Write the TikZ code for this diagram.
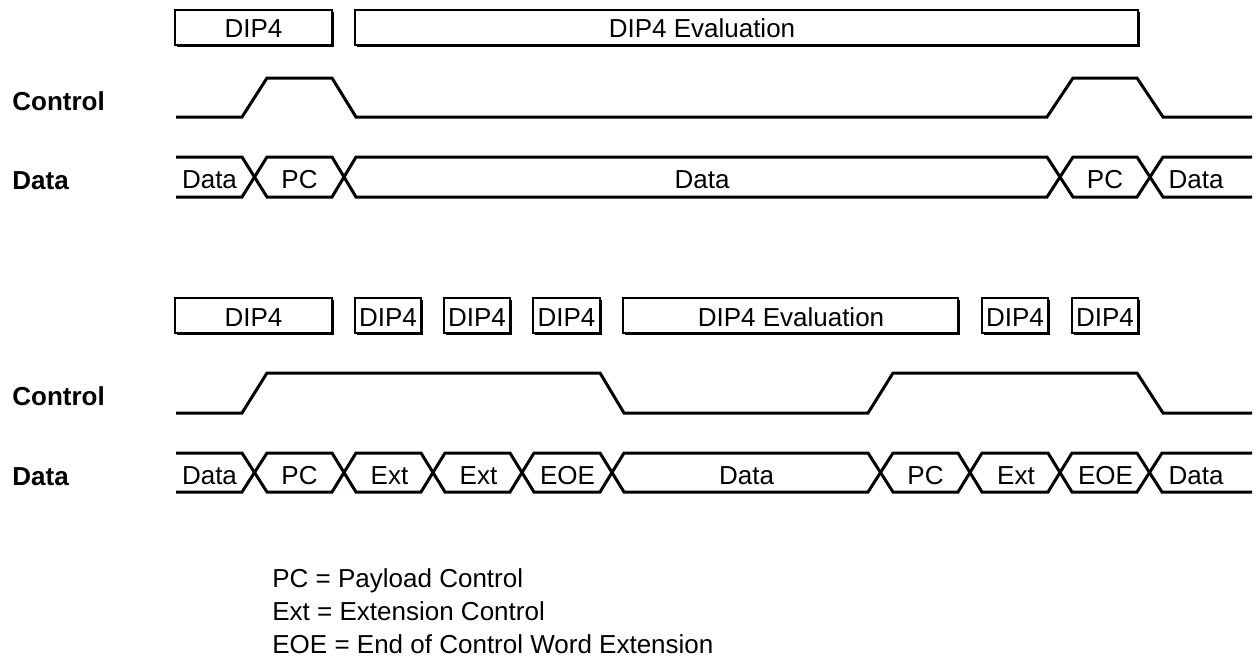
\documentclass[tikz,border=0pt]{standalone}
\usepackage{fontspec}
\setmainfont{Liberation Sans}
\begin{document}
\begin{tikzpicture}[x=0.5pt,y=-0.5pt,
  sig/.style={line width=1.5pt,line join=miter},
  boxframe/.style={line width=1.2pt},
  boxshade/.style={line width=1.2pt},
  txt/.style={anchor=base,inner sep=0pt,font=\fontsize{13pt}{15pt}\selectfont},
  lbl/.style={anchor=base west,inner sep=0pt,font=\fontsize{13pt}{15pt}\selectfont\bfseries},
  leg/.style={anchor=base west,inner sep=0pt,font=\fontsize{13pt}{15pt}\selectfont}]
\useasboundingbox (0,0) rectangle (1257,659);
% boxes
\foreach \a/\b/\t/\u in {175/332/10/45, 355/1138/10/45,
  175/332/298/333, 355/421/298/333, 444/510/298/333, 533/600/298/333,
  623/958/298/333, 982/1048/298/333, 1072/1138/298/333}{
  \draw[boxframe] (\a,\t) rectangle (\b,\u);
  \draw[boxshade] (\b+1,\t+2) -- (\b+1,\u+1) -- (\a+2,\u+1);
}
% top section
\node[txt] (tdip) at (253.5,37) {DIP4};
\node[txt] (teval) at (702,37) {DIP4 Evaluation};
\node[lbl] (tctl) at (12,110) {Control};
\node[lbl] (tdat) at (12,189) {Data};
\draw[sig] (176,117) -- (242,117) -- (267,78) -- (332,78) -- (356,117) -- (1047,117) -- (1073,78) -- (1137,78) -- (1163,117) -- (1252,117);
\draw[sig] (176,157) -- (242,157) -- (267,197) -- (332,197) -- (356,157) -- (1047,157) -- (1073,197) -- (1137,197) -- (1163,157) -- (1252,157);
\draw[sig] (176,197) -- (242,197) -- (267,157) -- (332,157) -- (356,197) -- (1047,197) -- (1073,157) -- (1137,157) -- (1163,197) -- (1252,197);
\node[txt] (td1) at (209.5,188) {Data};
\node[txt] (tp1) at (299.5,188) {PC};
\node[txt] (td2) at (702,188) {Data};
\node[txt] (tp2) at (1105,188) {PC};
\node[txt] (td3) at (1196,188) {Data};
% bottom section
\node[txt] (bdip) at (253.5,326) {DIP4};
\node[txt] (bdip2) at (388,326) {DIP4};
\node[txt] (bdip3) at (477,326) {DIP4};
\node[txt] (bdip4) at (566.5,326) {DIP4};
\node[txt] (beval) at (791,326) {DIP4 Evaluation};
\node[txt] (bdip5) at (1015,326) {DIP4};
\node[txt] (bdip6) at (1105,326) {DIP4};
\node[lbl] (bctl) at (12,405) {Control};
\node[lbl] (bdat) at (12,485) {Data};
\draw[sig] (176,413) -- (242,413) -- (267,373) -- (600,373) -- (624,413) -- (868,413) -- (893,373) -- (1137,373) -- (1163,413) -- (1252,413);
\draw[sig] (176,453) -- (242,453) -- (267,492) -- (332,492) -- (356,453) -- (421,453) -- (445,492) -- (510,492) -- (534,453) -- (600,453) -- (624,492) -- (868,492) -- (893,453) -- (958,453) -- (982,492) -- (1048,492) -- (1072,453) -- (1137,453) -- (1162,492) -- (1252,492);
\draw[sig] (176,492) -- (242,492) -- (267,453) -- (332,453) -- (356,492) -- (421,492) -- (445,453) -- (510,453) -- (534,492) -- (600,492) -- (624,453) -- (868,453) -- (893,492) -- (958,492) -- (982,453) -- (1048,453) -- (1072,492) -- (1137,492) -- (1162,453) -- (1252,453);
\node[txt] (bd1) at (209.5,484) {Data};
\node[txt] (bp1) at (299.5,484) {PC};
\node[txt] (be1) at (389.5,484) {Ext};
\node[txt] (be2) at (478.5,484) {Ext};
\node[txt] (bo1) at (567.5,484) {EOE};
\node[txt] (bd2) at (746.5,484) {Data};
\node[txt] (bp2) at (925.5,484) {PC};
\node[txt] (be3) at (1016,484) {Ext};
\node[txt] (bo2) at (1105.5,484) {EOE};
\node[txt] (bd3) at (1196,484) {Data};
% legend
\node[leg] (l1) at (272,587) {PC = Payload Control};
\node[leg] (l2) at (272,620) {Ext = Extension Control};
\node[leg] (l3) at (272,653) {EOE = End of Control Word Extension};
\end{tikzpicture}
\end{document}
